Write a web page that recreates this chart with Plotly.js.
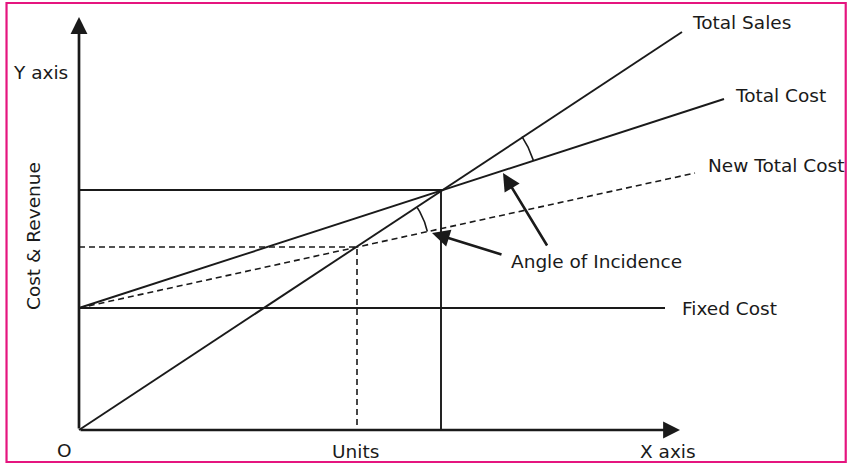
<!DOCTYPE html>
<html>
<head>
<meta charset="utf-8">
<script src="https://cdn.plot.ly/plotly-3.0.1.min.js"></script>
<style>html,body{margin:0;padding:0;background:#fff;}#chart{width:847px;height:464px;}</style>
</head>
<body>
<div id="chart"></div>
<script>
// Data (diagram units, origin O at 0,0)
const salesX = [0, 603];
const salesY = [0, 398];
const totalCostX = [0, 645];
const totalCostY = [122, 331];
const newCostX = [0, 616];
const newCostY = [122, 257];
const fixedX = [0, 586];
const fixedY = [122, 122];
const bep = [362, 240];
const newBep = [278, 183];
const lineLabels = ["Total Sales", "Total Cost", "New Total Cost", "Fixed Cost"];

const INK = '#1a1a1a';
const FONT = '"DejaVu Sans", sans-serif';
const FS = 18.5;

function slope(xs, ys) { return (ys[1] - ys[0]) / (xs[1] - xs[0]); }
function arc(c, r, s1, s2) {
  const a1 = Math.atan(s1), a2 = Math.atan(s2);
  const xs = [], ys = [];
  for (let i = 0; i <= 30; i++) {
    const a = a1 + (a2 - a1) * i / 30;
    xs.push(c[0] + r * Math.cos(a));
    ys.push(c[1] + r * Math.sin(a));
  }
  return {x: xs, y: ys};
}

const solid = {color: INK, width: 1.9};
const dashed = {color: INK, width: 1.6, dash: '6px,4px'};

const a1 = arc(newBep, 72, slope(newCostX, newCostY), slope(salesX, salesY));
const a2 = arc(bep, 97, slope(totalCostX, totalCostY), slope(salesX, salesY));

const traces = [
  {x: salesX, y: salesY, mode: 'lines', line: solid},
  {x: totalCostX, y: totalCostY, mode: 'lines', line: solid},
  {x: newCostX, y: newCostY, mode: 'lines', line: dashed},
  {x: fixedX, y: fixedY, mode: 'lines', line: solid},
  {x: [0, bep[0], bep[0]], y: [bep[1], bep[1], 0], mode: 'lines', line: solid},
  {x: [0, newBep[0], newBep[0]], y: [newBep[1], newBep[1], 0], mode: 'lines', line: dashed},
  {x: a1.x, y: a1.y, mode: 'lines', line: {color: INK, width: 1.6}},
  {x: a2.x, y: a2.y, mode: 'lines', line: {color: INK, width: 1.6}}
];

function label(text, x, y, anchor) {
  return {x: x, y: y, xref: 'x', yref: 'y', text: text, showarrow: false,
    xanchor: anchor || 'left', yanchor: 'middle', font: {family: FONT, size: FS, color: INK}};
}
function arrow(hx, hy, tx, ty, w, s) {
  return {x: hx, y: hy, ax: tx, ay: ty, xref: 'x', yref: 'y', axref: 'x', ayref: 'y',
    text: '', showarrow: true, arrowhead: 2, arrowsize: s, arrowwidth: w, arrowcolor: INK, standoff: 0, startstandoff: 0};
}

const annotations = [
  arrow(0, 413, 0, 0, 2.7, 1.25),
  arrow(601, 0, 0, 0, 2.7, 1.25),
  arrow(424, 257, 469, 183, 2.6, 1.35),
  arrow(353, 197, 424, 175, 2.6, 1.35),
  label(lineLabels[0], 611, 408),
  label(lineLabels[1], 654, 335),
  label(lineLabels[2], 627, 265),
  label(lineLabels[3], 601, 122),
  label('Angle of Incidence', 430, 169),
  label('Y axis', -68, 358),
  label('O', -15, -20, 'center'),
  label('Units', 276, -21, 'center'),
  label('X axis', 589, -21, 'center'),
  {x: -46, y: 194, xref: 'x', yref: 'y', text: 'Cost &amp; Revenue', showarrow: false, textangle: -90,
    xanchor: 'center', yanchor: 'middle', font: {family: FONT, size: FS, color: INK}}
];

const layout = {
  width: 847, height: 464,
  margin: {l: 0, r: 0, t: 0, b: 0, pad: 0},
  paper_bgcolor: '#fff', plot_bgcolor: '#fff',
  showlegend: false,
  xaxis: {range: [-79, 768], visible: false, fixedrange: true},
  yaxis: {range: [-34, 430], visible: false, fixedrange: true},
  annotations: annotations,
  shapes: [
    {type: 'rect', xref: 'paper', yref: 'paper', x0: 0.0077, x1: 0.9985, y0: 0.0043, y1: 0.9935,
      line: {color: '#e5157f', width: 2.2}}
  ]
};

Plotly.newPlot('chart', traces, layout, {staticPlot: true, displayModeBar: false});
</script>
</body>
</html>
